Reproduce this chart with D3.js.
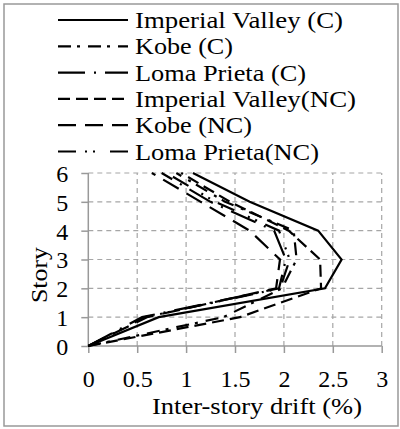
<!DOCTYPE html>
<html><head><meta charset="utf-8">
<script src="https://cdnjs.cloudflare.com/ajax/libs/d3/7.8.5/d3.min.js"></script>
<style>html,body{margin:0;padding:0;background:#fff;}svg{display:block;}
svg text{font-family:'Liberation Serif','Noto Serif','FreeSerif','Nimbus Roman','P052','Tinos','Times New Roman','Liberation Sans',sans-serif !important;fill:#000;}</style>
</head><body><svg id="c" width="400" height="429"></svg>
<script>
const stories = [0, 1, 2, 3, 4, 5, 6];
const seriesNames = ["Imperial Valley (C)", "Kobe (C)", "Loma Prieta (C)", "Imperial Valley(NC)", "Kobe (NC)", "Loma Prieta(NC)"];
const ivC   = [0, 0.72, 2.42, 2.59, 2.35, 1.65, 1.07];
const kobeC = [0, 1.38, 1.98, 2.13, 2.10, 1.40, 0.90];
const lomaC = [0, 0.55, 1.95, 2.02, 1.90, 1.25, 0.75];
const ivNC  = [0, 1.55, 2.38, 2.37, 2.05, 1.45, 0.95];
const kobeNC= [0, 0.60, 1.92, 1.96, 1.65, 1.15, 0.65];
const lomaNC= [0, 0.58, 1.96, 2.06, 1.95, 1.30, 0.80];
const xTicks = [0, 0.5, 1, 1.5, 2, 2.5, 3];
const yTicks = [0, 1, 2, 3, 4, 5, 6];
const xTitle = "Inter-story drift (%)";
const yTitle = "Story";

const seriesValues = [ivC, kobeC, lomaC, ivNC, kobeNC, lomaNC];
const dashes = [null, "13,6,3,8", "27,9,2,9", "12,6", "18,9", "18,9,2,6,2,15"];
const legendWidths = [208, 98, 171, 221, 117, 184];
const FS = "24px";

const svg = d3.select("#c");
svg.append("rect").attr("x", 4).attr("y", 4).attr("width", 394).attr("height", 422)
  .attr("fill", "#fff").attr("stroke", "#999").attr("stroke-width", 1.5);

const x = d3.scaleLinear().domain([0, 3]).range([88.3, 381.7]);
const y = d3.scaleLinear().domain([0, 6]).range([346, 173]);

// grid
const g = svg.append("g");
g.selectAll(".hg").data(yTicks.filter(d => d > 0)).enter().append("line")
  .attr("x1", x(0)).attr("x2", x(3)).attr("y1", d => y(d)).attr("y2", d => y(d))
  .attr("stroke", "#a6a6a6").attr("stroke-width", 1.2).attr("stroke-dasharray", "5,4");
g.selectAll(".vg").data(xTicks.filter(d => d > 0)).enter().append("line")
  .attr("x1", d => x(d)).attr("x2", d => x(d)).attr("y1", y(0)).attr("y2", y(6))
  .attr("stroke", "#a6a6a6").attr("stroke-width", 1.2).attr("stroke-dasharray", "5,4");

// axes
const xAxis = d3.axisBottom(x).tickValues(xTicks).tickSize(7).tickFormat(d3.format("~g"));
const yAxis = d3.axisLeft(y).tickValues(yTicks).tickSize(7).tickFormat(d3.format("d"));
const gx = svg.append("g").attr("transform", `translate(0,${y(0)})`).call(xAxis);
const gy = svg.append("g").attr("transform", `translate(${x(0)},0)`).call(yAxis);
[gx, gy].forEach(a => {
  a.select(".domain").attr("stroke", "#999").attr("stroke-width", 1.5);
  a.selectAll(".tick line").attr("stroke", "#999").attr("stroke-width", 1.5);
  a.selectAll(".tick text").style("font-size", FS).attr("fill", "#000");
});
gx.select(".domain").attr("d", `M${x(0)},0H${x(3)}`);
gy.select(".domain").attr("d", `M0,${y(0)}V${y(6)}`);
gx.selectAll(".tick text").attr("y", 0).attr("dy", 0).attr("transform", "translate(0,41)");
gy.selectAll(".tick text").attr("x", -20).attr("dy", "0.35em");

// series
const line = d3.line().x(d => x(d[0])).y(d => y(d[1]));
seriesValues.forEach((vals, i) => {
  svg.append("path").datum(vals.map((v, k) => [v, stories[k]]))
    .attr("d", line).attr("fill", "none").attr("stroke", "#000")
    .attr("stroke-width", 2.2)
    .attr("stroke-dasharray", dashes[i]);
});

// titles
svg.append("text").attr("x", 152).attr("y", 414)
  .attr("textLength", 210).attr("lengthAdjust", "spacingAndGlyphs")
  .style("font-size", FS).text(xTitle);
svg.append("text").attr("transform", "translate(47,303) rotate(-90)")
  .attr("textLength", 56).attr("lengthAdjust", "spacingAndGlyphs")
  .style("font-size", FS).text(yTitle);

// legend
const leg = svg.append("g");
seriesNames.forEach((name, i) => {
  const ly = 20 + i * 26.3;
  leg.append("line").attr("x1", 58).attr("x2", 128).attr("y1", ly).attr("y2", ly)
    .attr("stroke", "#000").attr("stroke-width", 2.2).attr("stroke-dasharray", dashes[i]);
  leg.append("text").attr("x", 135).attr("y", ly + 8)
    .attr("textLength", legendWidths[i]).attr("lengthAdjust", "spacingAndGlyphs")
    .style("font-size", FS).text(name);
});
</script></body></html>
